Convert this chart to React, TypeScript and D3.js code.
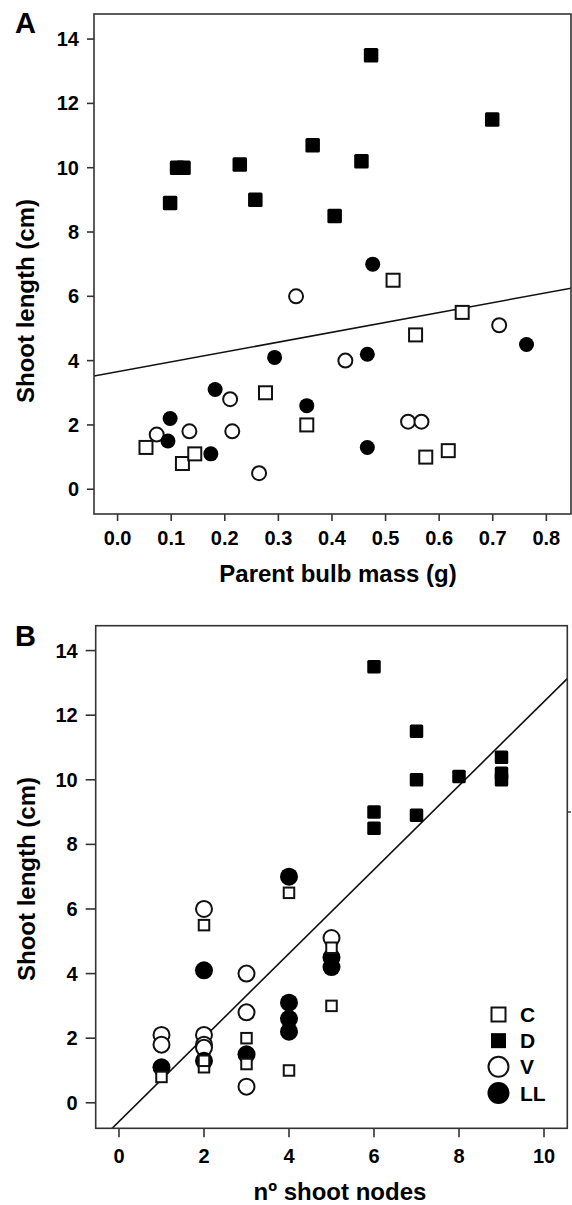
import React from "react";
import * as d3 from "d3";

// Panel A: parent bulb mass (g) vs shoot length (cm)
const bulbC: [number, number][] = [
  [0.053, 1.3], [0.121, 0.8], [0.144, 1.1], [0.276, 3.0], [0.353, 2.0],
  [0.514, 6.5], [0.556, 4.8], [0.575, 1.0], [0.617, 1.2], [0.643, 5.5],
];
const bulbD: [number, number][] = [
  [0.098, 8.9], [0.111, 10.0], [0.123, 10.0], [0.228, 10.1], [0.257, 9.0],
  [0.364, 10.7], [0.405, 8.5], [0.455, 10.2], [0.473, 13.5], [0.699, 11.5],
];
const bulbV: [number, number][] = [
  [0.073, 1.7], [0.134, 1.8], [0.21, 2.8], [0.214, 1.8], [0.264, 0.5],
  [0.333, 6.0], [0.425, 4.0], [0.542, 2.1], [0.567, 2.1], [0.712, 5.1],
];
const bulbLL: [number, number][] = [
  [0.094, 1.5], [0.098, 2.2], [0.174, 1.1], [0.182, 3.1], [0.293, 4.1],
  [0.353, 2.6], [0.466, 4.2], [0.466, 1.3], [0.476, 7.0], [0.763, 4.5],
];
const bulbFit = { intercept: 3.655, slope: 3.07 };

// Panel B: number of shoot nodes vs shoot length (cm)
const nodesC: [number, number][] = [
  [1, 0.8], [2, 5.5], [2, 1.1], [2, 1.3], [3, 2.0],
  [3, 1.2], [4, 6.5], [4, 1.0], [5, 4.8], [5, 3.0],
];
const nodesD: [number, number][] = [
  [6, 13.5], [6, 9.0], [6, 8.5], [7, 11.5], [7, 10.0],
  [7, 8.9], [8, 10.1], [9, 10.7], [9, 10.2], [9, 10.0],
];
const nodesV: [number, number][] = [
  [1, 2.1], [1, 1.8], [2, 6.0], [2, 2.1], [2, 1.8],
  [2, 1.7], [3, 4.0], [3, 2.8], [3, 0.5], [5, 5.1],
];
const nodesLL: [number, number][] = [
  [1, 1.1], [2, 4.1], [2, 1.3], [3, 1.5], [4, 7.0],
  [4, 3.1], [4, 2.6], [4, 2.2], [5, 4.5], [5, 4.2],
];
const nodesFit = { intercept: -0.58, slope: 1.3 };

const bulbTicks = [0, 0.1, 0.2, 0.3, 0.4, 0.5, 0.6, 0.7, 0.8];
const nodeTicks = [0, 2, 4, 6, 8, 10];
const lengthTicks = [0, 2, 4, 6, 8, 10, 12, 14];
const legendItems = ["C", "D", "V", "LL"];

const FONT = "'Liberation Sans', Arial, Helvetica, sans-serif";

type Sizes = { sq: number; openSq: number; circ: number; fillCirc: number };

interface PanelProps {
  label: string;
  labelY: number;
  box: { left: number; right: number; top: number; bottom: number };
  xDomain: [number, number];
  yDomain: [number, number];
  xTicks: number[];
  xFormat: (d: number) => string;
  xTitle: string;
  xTitleX: number;
  xTitleY: number;
  yTitleY: number;
  yTitleX: number;
  tickLabelY: number;
  xTickLen: number;
  yTickLen: number;
  series: { C: [number, number][]; D: [number, number][]; V: [number, number][]; LL: [number, number][] };
  fit: { intercept: number; slope: number };
  sizes: Sizes;
  id: string;
  children?: React.ReactNode;
}

const Panel: React.FC<PanelProps> = (p) => {
  const x = d3.scaleLinear().domain(p.xDomain).range([p.box.left, p.box.right]);
  const y = d3.scaleLinear().domain(p.yDomain).range([p.box.bottom, p.box.top]);
  const line = d3
    .line<number>()
    .x((d) => x(d))
    .y((d) => y(p.fit.intercept + p.fit.slope * d));
  const s = p.sizes;

  return (
    <g>
      <defs>
        <clipPath id={p.id}>
          <rect
            x={p.box.left}
            y={p.box.top}
            width={p.box.right - p.box.left}
            height={p.box.bottom - p.box.top}
          />
        </clipPath>
      </defs>
      <text x={15} y={p.labelY} fontSize={29} fontWeight="bold" fontFamily={FONT}>
        {p.label}
      </text>

      {/* regression line */}
      <path
        d={line(p.xDomain) || ""}
        clipPath={`url(#${p.id})`}
        fill="none"
        stroke="#111"
        strokeWidth={1.6}
      />

      {/* points */}
      {p.series.V.map((d, i) => (
        <circle key={"v" + i} cx={x(d[0])} cy={y(d[1])} r={s.circ / 2 - 1} fill="white" stroke="#111" strokeWidth={2} />
      ))}
      {p.series.LL.map((d, i) => (
        <circle key={"l" + i} cx={x(d[0])} cy={y(d[1])} r={s.fillCirc / 2} fill="#000" />
      ))}
      {p.series.C.map((d, i) => (
        <rect
          key={"c" + i}
          x={x(d[0]) - s.openSq / 2 + 1}
          y={y(d[1]) - s.openSq / 2 + 1}
          width={s.openSq - 2}
          height={s.openSq - 2}
          fill="white"
          stroke="#111"
          strokeWidth={2}
        />
      ))}
      {p.series.D.map((d, i) => (
        <rect
          key={"d" + i}
          x={x(d[0]) - s.sq / 2}
          y={y(d[1]) - s.sq / 2}
          width={s.sq}
          height={s.sq}
          rx={1.5}
          fill="#000"
        />
      ))}

      {/* frame */}
      <rect
        x={p.box.left}
        y={p.box.top}
        width={p.box.right - p.box.left}
        height={p.box.bottom - p.box.top}
        fill="none"
        stroke="#333"
        strokeWidth={1.6}
      />

      {/* y axis */}
      {lengthTicks.map((t) => (
        <g key={"yt" + t}>
          <line x1={p.box.left - p.yTickLen} x2={p.box.left} y1={y(t)} y2={y(t)} stroke="#333" strokeWidth={1.6} />
          <text
            x={p.box.left - p.yTickLen - 8}
            y={y(t) + 7}
            textAnchor="end"
            fontSize={20}
            fontWeight="bold"
            fontFamily={FONT}
          >
            {t}
          </text>
        </g>
      ))}
      <text
        transform={`translate(${p.yTitleX},${p.yTitleY}) rotate(-90)`}
        textAnchor="middle"
        fontSize={24}
        fontWeight="bold"
        fontFamily={FONT}
      >
        Shoot length (cm)
      </text>

      {/* x axis */}
      {p.xTicks.map((t) => (
        <g key={"xt" + t}>
          <line x1={x(t)} x2={x(t)} y1={p.box.bottom} y2={p.box.bottom + p.xTickLen} stroke="#333" strokeWidth={1.6} />
          <text x={x(t)} y={p.tickLabelY} textAnchor="middle" fontSize={20} fontWeight="bold" fontFamily={FONT}>
            {p.xFormat(t)}
          </text>
        </g>
      ))}
      <text x={p.xTitleX} y={p.xTitleY} textAnchor="middle" fontSize={24} fontWeight="bold" fontFamily={FONT}>
        {p.xTitle}
      </text>
      {p.children}
    </g>
  );
};

const App: React.FC = () => {
  const legendX = 498.5;
  const legendY = d3.scalePoint<string>().domain(legendItems).range([1014.5, 1093]);
  return (
    <svg
      width={572}
      height={1205}
      style={{ position: "absolute", left: 0, top: 0, background: "white" }}
    >
      <rect width={572} height={1205} fill="white" />
      <Panel
        id="clipA"
        label="A"
        labelY={33}
        box={{ left: 94, right: 571, top: 14, bottom: 514 }}
        xDomain={[-0.044, 0.846]}
        yDomain={[-0.77, 14.78]}
        xTicks={bulbTicks}
        xFormat={d3.format(".1f")}
        xTitle="Parent bulb mass (g)"
        xTitleX={338}
        xTitleY={582}
        yTitleX={34}
        yTitleY={301}
        tickLabelY={545}
        xTickLen={7}
        yTickLen={7}
        series={{ C: bulbC, D: bulbD, V: bulbV, LL: bulbLL }}
        fit={bulbFit}
        sizes={{ sq: 14.5, openSq: 15, circ: 16, fillCirc: 15 }}
      />
      <Panel
        id="clipB"
        label="B"
        labelY={646}
        box={{ left: 95.7, right: 567.3, top: 625.7, bottom: 1128.3 }}
        xDomain={[-0.548, 10.548]}
        yDomain={[-0.79, 14.77]}
        xTicks={nodeTicks}
        xFormat={d3.format("d")}
        xTitle="nº shoot nodes"
        xTitleX={340}
        xTitleY={1200}
        yTitleX={35}
        yTitleY={879}
        tickLabelY={1163}
        xTickLen={9}
        yTickLen={10}
        series={{ C: nodesC, D: nodesD, V: nodesV, LL: nodesLL }}
        fit={nodesFit}
        sizes={{ sq: 13.5, openSq: 12.5, circ: 18, fillCirc: 18 }}
      >
        <line x1={567.3} x2={571} y1={812} y2={812} stroke="#333" strokeWidth={1.4} />
        {/* legend */}
        <rect x={legendX - 7} y={legendY("C")! - 7} width={14} height={14} fill="white" stroke="#111" strokeWidth={2} />
        <rect x={legendX - 7.5} y={legendY("D")! - 7.5} width={15} height={15} fill="#000" />
        <circle cx={legendX} cy={legendY("V")!} r={10} fill="white" stroke="#111" strokeWidth={2} />
        <circle cx={legendX} cy={legendY("LL")!} r={11} fill="#000" />
        {legendItems.map((k) => (
          <text
            key={k}
            x={520}
            y={legendY(k)! + 7.5}
            fontSize={21}
            fontWeight="bold"
            fontFamily={FONT}
          >
            {k}
          </text>
        ))}
      </Panel>
    </svg>
  );
};

export default App;
